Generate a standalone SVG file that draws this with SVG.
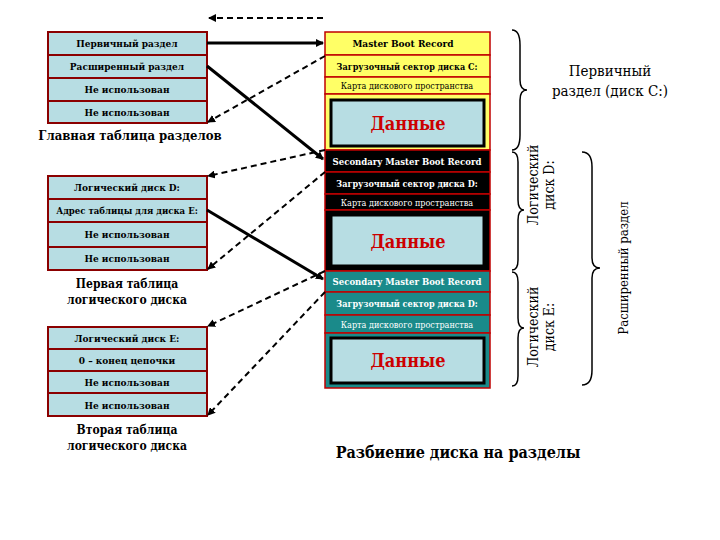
<svg xmlns="http://www.w3.org/2000/svg" width="720" height="540" viewBox="0 0 720 540">
<defs>
<marker id="ah" markerWidth="8" markerHeight="8" refX="7" refY="4" orient="auto" markerUnits="userSpaceOnUse"><path d="M0,0 L8,4 L0,8 z" fill="#000"/></marker>
<style>
text{font-family:"DejaVu Serif","Liberation Serif",serif;font-stretch:condensed}
.t{font-weight:bold;font-size:10px;text-anchor:middle}
.c{fill:#b7dde3;stroke:#8b0000;stroke-width:2}
.y{fill:#ffff66;stroke:#c00000;stroke-width:1.5}
.k{fill:#000;stroke:#c00000;stroke-width:1.5}
.g{fill:#1a8a8a;stroke:#c00000;stroke-width:1.5}
.in{fill:#b7dde3;stroke:#000;stroke-width:3}
.d{font-weight:bold;font-size:18px;fill:#cc0000;text-anchor:middle}
.w{fill:#fff}
.s{fill:none;stroke:#000;stroke-width:3}
.ds{fill:none;stroke:#000;stroke-width:2;stroke-dasharray:6,4}
.br{fill:none;stroke:#000;stroke-width:1.5}
.L{font-weight:bold;font-size:13px;text-anchor:middle}
.N{font-weight:normal;font-size:14px;text-anchor:middle}
</style>
</defs>
<rect width="720" height="540" fill="#fff"/>
<g id="main-table">
<rect class="c" x="48" y="32" width="159" height="23"/><text class="t" x="127" y="47">Первичный раздел</text>
<rect class="c" x="48" y="55" width="159" height="23"/><text class="t" x="127" y="70">Расширенный раздел</text>
<rect class="c" x="48" y="78" width="159" height="23"/><text class="t" x="127" y="93">Не использован</text>
<rect class="c" x="48" y="101" width="159" height="22"/><text class="t" x="127" y="116">Не использован</text>
<text class="L" x="130" y="140">Главная таблица разделов</text>
</g>
<g id="table1">
<rect class="c" x="48" y="176" width="159" height="23"/><text class="t" x="127" y="191">Логический диск D:</text>
<rect class="c" x="48" y="199" width="159" height="23"/><text class="t" x="127" y="214" style="font-size:9.5px">Адрес таблицы для диска E:</text>
<rect class="c" x="48" y="222" width="159" height="25"/><text class="t" x="127" y="238">Не использован</text>
<rect class="c" x="48" y="247" width="159" height="23"/><text class="t" x="127" y="262">Не использован</text>
<text class="L" x="127" y="288" style="font-size:12px">Первая таблица</text>
<text class="L" x="127" y="304" style="font-size:12px">логического диска</text>
</g>
<g id="table2">
<rect class="c" x="48" y="327" width="159" height="22"/><text class="t" x="127" y="342">Логический диск E:</text>
<rect class="c" x="48" y="349" width="159" height="22"/><text class="t" x="127" y="364">0 – конец цепочки</text>
<rect class="c" x="48" y="371" width="159" height="22"/><text class="t" x="127" y="386">Не использован</text>
<rect class="c" x="48" y="393" width="159" height="23"/><text class="t" x="127" y="409">Не использован</text>
<text class="L" x="127" y="434" style="font-size:12px">Вторая таблица</text>
<text class="L" x="127" y="450" style="font-size:12px">логического диска</text>
</g>
<g id="disk">
<rect class="y" x="325" y="32" width="165" height="23"/><text class="t" x="403" y="47">Master Boot Record</text>
<rect class="y" x="325" y="55" width="165" height="22"/><text class="t" x="407" y="70" style="font-size:9px">Загрузочный сектор диска C:</text>
<rect class="y" x="325" y="77" width="165" height="17"/><text class="t" x="407" y="89" style="font-size:9px;font-weight:normal">Карта дискового пространства</text>
<rect class="y" x="325" y="94" width="165" height="56"/><rect class="in" x="331" y="100" width="153" height="46"/><text class="d" x="408" y="130">Данные</text>
<rect class="k" x="325" y="150" width="165" height="22"/><text class="t w" x="407" y="165" style="font-size:9.5px">Secondary Master Boot Record</text>
<rect class="k" x="325" y="172" width="165" height="22"/><text class="t w" x="407" y="187" style="font-size:9px">Загрузочный сектор диска D:</text>
<rect class="k" x="325" y="194" width="165" height="16"/><text class="t w" x="407" y="206" style="font-size:9px;font-weight:normal">Карта дискового пространства</text>
<rect class="k" x="325" y="210" width="165" height="61"/><rect class="in" x="331" y="215" width="153" height="51"/><text class="d" x="408" y="248">Данные</text>
<rect class="g" x="325" y="271" width="165" height="21"/><text class="t w" x="407" y="285" style="font-size:9.5px">Secondary Master Boot Record</text>
<rect class="g" x="325" y="292" width="165" height="23"/><text class="t w" x="407" y="307" style="font-size:9px">Загрузочный сектор диска D:</text>
<rect class="g" x="325" y="315" width="165" height="18"/><text class="t w" x="407" y="328" style="font-size:9px;font-weight:normal">Карта дискового пространства</text>
<rect class="g" x="325" y="333" width="165" height="55"/><rect class="in" x="331" y="338" width="153" height="45"/><text class="d" x="408" y="367">Данные</text>
</g>
<g id="labels">
<path class="br" d="M512,30 Q520,30 520,45 L520,80 Q520,90 527,90 Q520,90 520,100 L520,135 Q520,150 512,150"/>
<text class="N" x="610" y="76" style="font-size:15px">Первичный</text>
<text class="N" x="610" y="96" style="font-size:15px">раздел (диск С:)</text>
<path class="br" d="M512,152 Q518,152 518,162 L518,200 Q518,210 524,210 Q518,210 518,220 L518,260 Q518,270 512,270"/>
<text class="N" transform="translate(538,185) rotate(-90)">Логический</text>
<text class="N" transform="translate(554,185) rotate(-90)">диск D:</text>
<path class="br" d="M512,272 Q518,272 518,282 L518,318 Q518,328 524,328 Q518,328 518,338 L518,376 Q518,386 512,386"/>
<text class="N" transform="translate(538,327) rotate(-90)">Логический</text>
<text class="N" transform="translate(554,327) rotate(-90)">диск E:</text>
<path class="br" d="M582,152 Q592,152 592,167 L592,258 Q592,268 600,268 Q592,268 592,278 L592,370 Q592,385 582,385"/>
<text class="N" transform="translate(628,268) rotate(-90)" style="font-size:13px">Расширенный раздел</text>
<text class="L" x="458" y="458" style="font-size:16px">Разбиение диска на разделы</text>
</g>
<g id="connectors">
<line class="ds" x1="323" y1="18" x2="209" y2="18" marker-end="url(#ah)"/>
<line class="s" x1="207" y1="43" x2="323" y2="43" marker-end="url(#ah)"/>
<line class="s" x1="207" y1="66" x2="323" y2="159" marker-end="url(#ah)"/>
<line class="ds" x1="325" y1="56" x2="208" y2="122" marker-end="url(#ah)"/>
<line class="ds" x1="325" y1="150" x2="208" y2="176" marker-end="url(#ah)"/>
<line class="ds" x1="325" y1="172" x2="208" y2="269" marker-end="url(#ah)"/>
<line class="s" x1="207" y1="210" x2="323" y2="279" marker-end="url(#ah)"/>
<line class="ds" x1="325" y1="271" x2="208" y2="326" marker-end="url(#ah)"/>
<line class="ds" x1="325" y1="292" x2="208" y2="415" marker-end="url(#ah)"/>
</g>
</svg>
